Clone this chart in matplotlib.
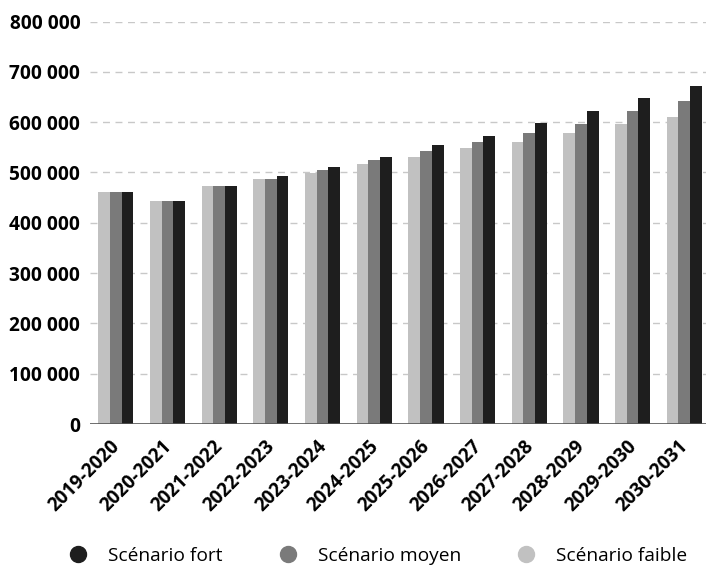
import numpy as np
import matplotlib.pyplot as plt
from matplotlib.transforms import ScaledTranslation

years = ["2019-2020", "2020-2021", "2021-2022", "2022-2023", "2023-2024", "2024-2025",
         "2025-2026", "2026-2027", "2027-2028", "2028-2029", "2029-2030", "2030-2031"]
faible = [462000, 443000, 474000, 486000, 499000, 517000,
          530000, 548000, 560000, 579000, 597000, 610000]
moyen = [462000, 443000, 474000, 486000, 505000, 524000,
         542000, 560000, 579000, 597000, 622000, 641000]
fort = [462000, 443000, 474000, 493000, 511000, 530000,
        554000, 573000, 598000, 622000, 647000, 672000]
yticks = [0, 100000, 200000, 300000, 400000, 500000, 600000, 700000, 800000]

c_faible, c_moyen, c_fort = "#c1c1c1", "#7a7a7a", "#1e1e1e"

plt.rcParams['font.family'] = ['Open Sans', 'DejaVu Sans']

fig = plt.figure(figsize=(7.06, 5.65), dpi=100)
W, H = 706, 565
ax = fig.add_axes([90 / W, 1 - 424 / H, (706 - 90) / W, (424 - 21.5) / H])

x = np.arange(len(years))
w = 0.227
ax.bar(x - w, faible, w, color=c_faible, zorder=3)
ax.bar(x, moyen, w, color=c_moyen, zorder=3)
ax.bar(x + w, fort, w, color=c_fort, zorder=3)

ax.set_xlim(-0.5, 11.42)
ax.set_ylim(0, 800000)
ax.set_yticks(yticks)
ax.set_yticklabels([f"{v:,}".replace(",", " ") for v in yticks],
                   fontsize=13.8, fontweight='bold')
ax.set_xticks(x)
ax.set_xticklabels(years, rotation=45, ha='right', rotation_mode='anchor',
                   fontsize=13.6, fontweight='bold')
ax.tick_params(axis='y', length=0, pad=7)
ax.tick_params(axis='x', length=0, pad=7)
shift = ScaledTranslation(-6 / 100, -3 / 100, fig.dpi_scale_trans)
for lab in ax.get_xticklabels():
    lab.set_transform(lab.get_transform() + shift)

for v in yticks[1:]:
    ax.axhline(v, color="#c8c8c8", lw=1, ls=(0, (5, 4)), zorder=1)
ax.axhline(0, color="#555555", lw=1.2, zorder=4)
for s in ax.spines.values():
    s.set_visible(False)

# legend row under the chart
fs = 13.8
em = fs * 100 / 72
h = [plt.Line2D([], [], ls='', marker='o', ms=11.5, color=c) for c in (c_fort, c_moyen, c_faible)]
fig.legend(h, ["Scénario fort", "Scénario moyen", "Scénario faible"], ncol=3,
           loc='center left', bbox_to_anchor=((78 - em) / W, 1 - 556 / H), frameon=False,
           fontsize=fs, handletextpad=(30 - em) / em, columnspacing=2.4,
           borderpad=0, borderaxespad=0)

fig.savefig("out.png", dpi=100)
